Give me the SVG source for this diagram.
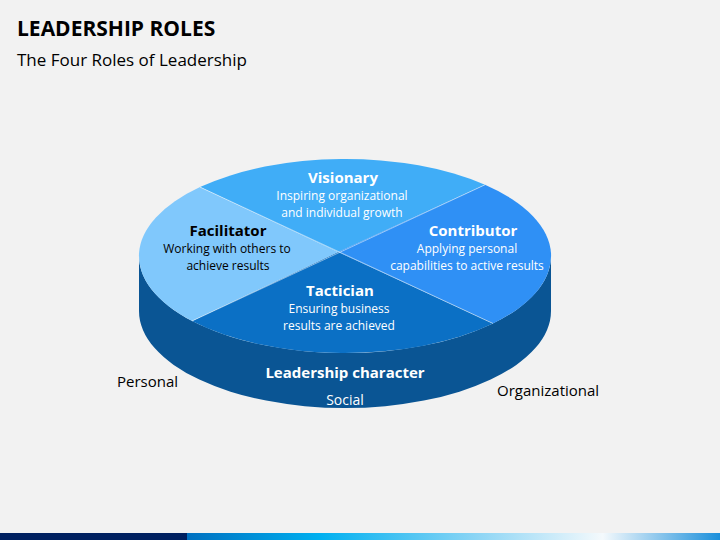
<svg xmlns="http://www.w3.org/2000/svg" width="720" height="540" viewBox="0 0 720 540">
<defs>
<style>
text{font-family:"Open Sans","Noto Sans","Liberation Sans",sans-serif}
.h{font-size:15px;font-weight:bold;text-anchor:middle}
.d{font-size:12px;text-anchor:middle}
.s{font-size:14px;text-anchor:middle}
.w{fill:#ffffff}
.k{fill:#000000}
.sep{stroke:#ffffff;stroke-opacity:0.5;stroke-width:1}
</style>
<linearGradient id="bar" x1="0" y1="0" x2="1" y2="0">
<stop offset="0" stop-color="#0070c0"/>
<stop offset="0.25" stop-color="#00b0f0"/>
<stop offset="0.55" stop-color="#8fd6f5"/>
<stop offset="0.78" stop-color="#f4f9fc"/>
<stop offset="1" stop-color="#1a8fdb"/>
</linearGradient>
</defs>
<rect width="720" height="540" fill="#f2f2f2"/>
<text x="17" y="36" font-size="21" font-weight="bold" fill="#000">LEADERSHIP ROLES</text>
<text x="17" y="66" font-size="17" fill="#000">The Four Roles of Leadership</text>

<g id="base">
<path d="M139,256 L139,311 A206,97 0 0 0 551,311 L551,256 A206,97 0 0 1 139,256 Z" fill="#0a5594"/>
<text class="h w" x="345" y="378">Leadership character</text>
<text class="s w" x="345" y="405">Social</text>
</g>
<g id="visionary">
<path d="M338,252 L200,187.1 A206,97 0 0 1 485,184.8 Z" fill="#40adf7"/>
<text class="h w" x="343" y="183">Visionary</text>
<text class="d w" x="342" y="200">Inspiring organizational</text>
<text class="d w" x="342" y="217">and individual growth</text>
</g>
<g id="contributor">
<path d="M338,252 L485,184.8 A206,97 0 0 1 493,323.5 Z" fill="#2f90f5"/>
<text class="h w" x="473" y="236">Contributor</text>
<text class="d w" x="467" y="253">Applying personal</text>
<text class="d w" x="467" y="270">capabilities to active results</text>
</g>
<g id="tactician">
<path d="M338,252 L493,323.5 A206,97 0 0 1 192,321 Z" fill="#0b70c5"/>
<text class="h w" x="340" y="296">Tactician</text>
<text class="d w" x="339" y="313">Ensuring business</text>
<text class="d w" x="339" y="330">results are achieved</text>
</g>
<g id="facilitator">
<path d="M338,252 L192,321 A206,97 0 0 1 200,187.1 Z" fill="#80c8fc"/>
<text class="h k" x="228" y="236">Facilitator</text>
<text class="d k" x="227" y="253">Working with others to</text>
<text class="d k" x="228" y="270">achieve results</text>
</g>
<g id="dividers">
<line class="sep" x1="200" y1="187.1" x2="493" y2="323.5"/>
<line class="sep" x1="485" y1="184.8" x2="192" y2="321"/>
</g>
<g id="personal"><text x="117" y="387" font-size="15" fill="#000">Personal</text></g>
<g id="organizational"><text x="497" y="396" font-size="15" fill="#000">Organizational</text></g>

<rect x="0" y="533" width="187" height="7" fill="#002060"/>
<rect x="187" y="533" width="533" height="7" fill="url(#bar)"/>
</svg>
